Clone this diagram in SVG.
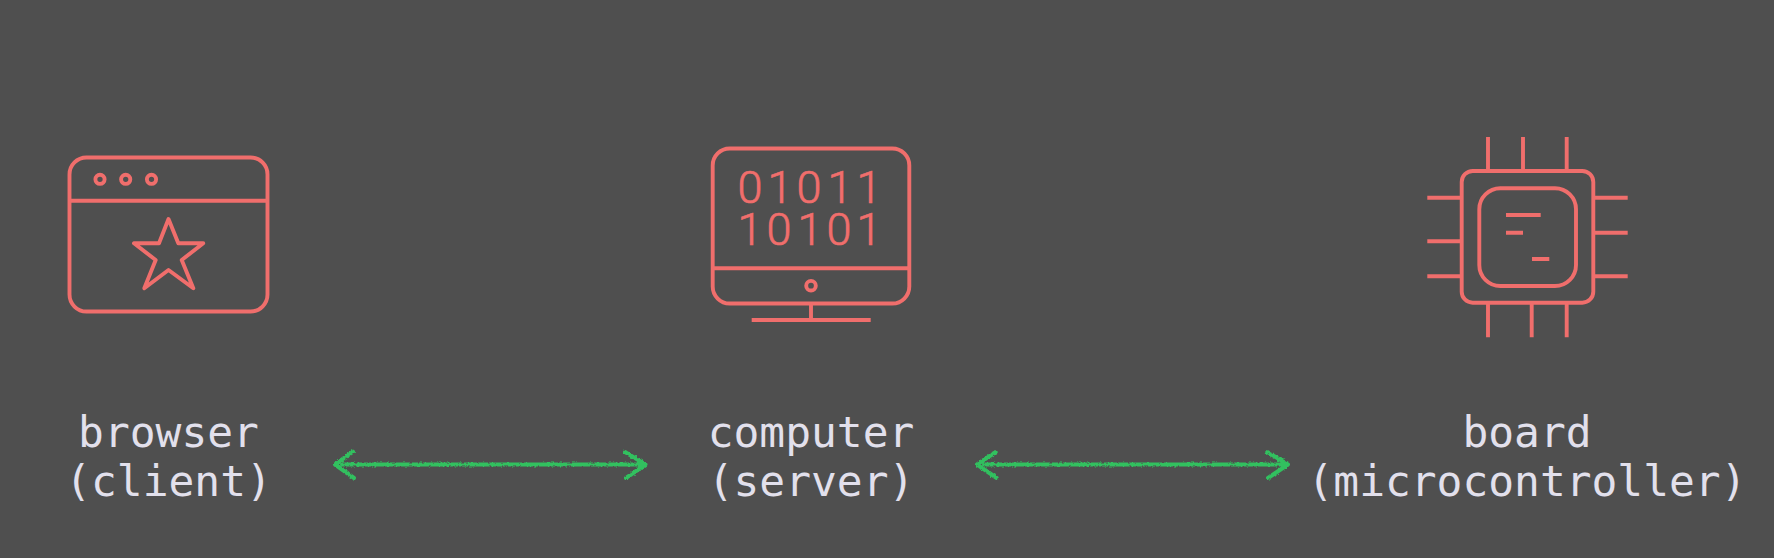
<svg xmlns="http://www.w3.org/2000/svg" width="1774" height="558" viewBox="0 0 1774 558">
<style>
.i{fill:none;stroke:#f06e6c;stroke-width:3.9;stroke-linecap:butt;stroke-linejoin:round}
.l{font-family:"DejaVu Sans Mono","Liberation Mono",monospace;font-size:42.9px;fill:#e2e0ec;text-anchor:middle}
.d{font-family:Roboto,"Liberation Sans",sans-serif;font-weight:300;font-size:45px;fill:#f06e6c;stroke:#f06e6c;stroke-width:.7;text-anchor:middle}
.a{fill:none;stroke:#31c05e;stroke-width:4;stroke-linecap:round;stroke-linejoin:round}
</style>
<defs>
<filter id="rough" x="-5%" y="-100%" width="110%" height="300%">
<feTurbulence type="fractalNoise" baseFrequency="0.4" numOctaves="2" seed="4"/>
<feDisplacementMap in="SourceGraphic" scale="3.4" xChannelSelector="R" yChannelSelector="G"/>
</filter>
</defs>
<rect width="1774" height="558" fill="#4f4f4f"/>
<g id="connectors" filter="url(#rough)">
<path class="a" d="M342 464.5H642M353 451.7L335 464.5L354 478M625 452L645.5 464.5L626 478"/>
<path class="a" d="M984 464.5H1284M995.7 452L977 464.5L996.7 478M1267.3 452L1288 464.5L1268 478"/>
</g>
<g id="browser">
<rect class="i" x="69.5" y="157.5" width="198" height="154" rx="17"/>
<path class="i" d="M69.5 200.7H267.5"/>
<circle class="i" cx="100" cy="179.3" r="4.6"/>
<circle class="i" cx="125.7" cy="179.3" r="4.6"/>
<circle class="i" cx="151.5" cy="179.3" r="4.6"/>
<path class="i" d="M168.5 219L178.3 243.3H203.3L181.7 260L193.3 288.3L168.5 270L144.3 288.3L155.7 260L134 243.3H159Z"/>
<text class="l" x="168.5" y="447">browser</text>
<text class="l" x="168.5" y="496">(client)</text>
</g>
<g id="computer">
<rect class="i" x="712.7" y="148.5" width="196.6" height="155" rx="17"/>
<path class="i" d="M712.7 268.3H909.3M811 303.5V320M751.7 320H870.7"/>
<circle class="i" cx="811" cy="285.7" r="4.8"/>
<text class="d" x="750 780 809 840 869" y="203">01011</text>
<text class="d" x="750 779 810 839 869" y="245">10101</text>
<text class="l" x="811" y="447">computer</text>
<text class="l" x="811" y="496">(server)</text>
</g>
<g id="board">
<rect class="i" x="1461.7" y="171" width="131.6" height="131.7" rx="11"/>
<rect class="i" x="1479.3" y="188.3" width="96.7" height="97.7" rx="21"/>
<path class="i" d="M1488 137V171M1523 137V171M1566.7 137V171M1488 303V337.3M1531.7 303V337.3M1566.7 303V337.3M1427.3 197.7H1462M1427.3 241.3H1462M1427.3 276.3H1462M1593 197.7H1627.7M1593 232.7H1627.7M1593 276.3H1627.7M1506 215H1540.7M1506 232.7H1523M1532 259H1549.3"/>
<text class="l" x="1527" y="447">board</text>
<text class="l" x="1527" y="496">(microcontroller)</text>
</g>
</svg>
